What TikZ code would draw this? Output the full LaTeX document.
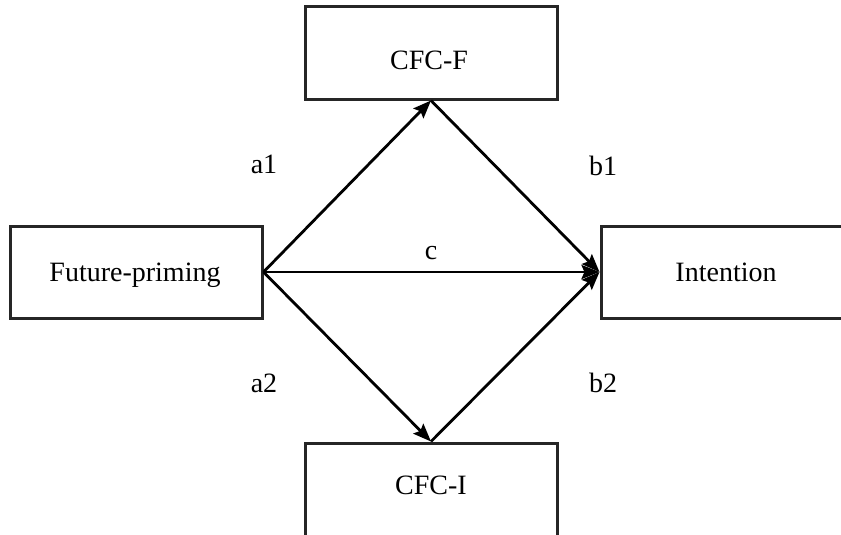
\documentclass[tikz,border=0pt]{standalone}
\usepackage{fontspec}
\setmainfont{Liberation Serif}
\usetikzlibrary{arrows.meta}
\begin{document}
\begin{tikzpicture}[x=1pt,y=-1pt,
  box/.style={draw=black!85, line width=3pt, rectangle, inner sep=0pt},
  txt/.style={font=\fontsize{28}{33}\selectfont, anchor=base, inner sep=0pt},
  path/.style={line width=2.8pt, -{Stealth[length=18pt,width=14pt,inset=3pt]}}]
\useasboundingbox (0,0) rectangle (841,535);
\clip (0,0) rectangle (841,535);
% boxes
\node[box, minimum width=252pt, minimum height=92pt] (cfcf) at (431,53) {};
\node[box, minimum width=252pt, minimum height=92pt] (fp) at (136,272) {};
\node[box, minimum width=262pt, minimum height=92pt] (int) at (732,272) {};
\node[box, minimum width=252pt, minimum height=104pt] (cfci) at (431,495) {};
% box texts
\node[txt] (tcfcf) at (429,70) {CFC-F};
\node[txt] (tfp) at (135,281) {Future-priming};
\node[txt] (tint) at (726,281) {Intention};
\node[txt] (tcfci) at (431,494) {CFC-I};
% paths
\draw[path] (fp.east) -- (cfcf.south);
\draw[path] (fp.east) -- (int.west);
\draw[path] (fp.east) -- (cfci.north);
\draw[path] (cfcf.south) -- (int.west);
\draw[path] (cfci.north) -- (int.west);
% path labels
\node[txt] (la1) at (264,173) {a1};
\node[txt] (lb1) at (603,175) {b1};
\node[txt] (lc) at (431,259) {c};
\node[txt] (la2) at (264,392) {a2};
\node[txt] (lb2) at (603,392) {b2};
\end{tikzpicture}
\end{document}
